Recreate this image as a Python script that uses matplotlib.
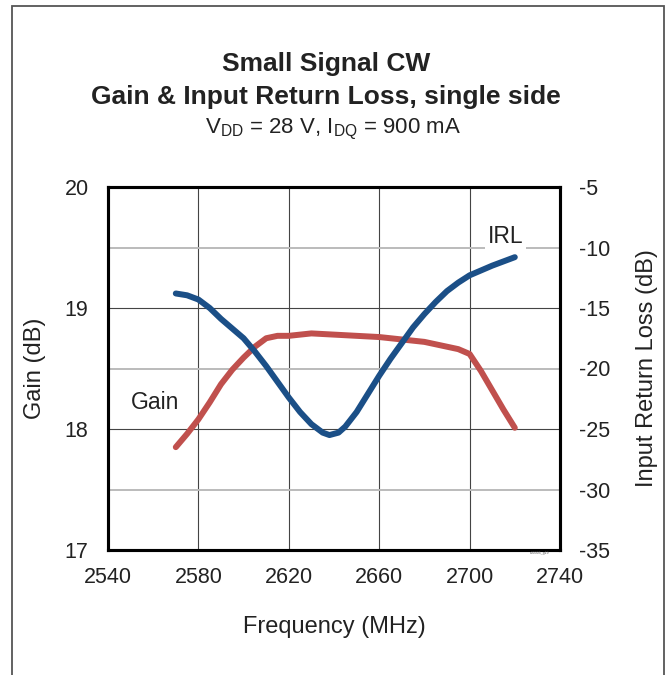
import matplotlib.pyplot as plt
from matplotlib.patches import Rectangle
from matplotlib.ticker import MultipleLocator

plt.rcParams['font.family'] = ['Liberation Sans', 'DejaVu Sans']
plt.rcParams['axes.unicode_minus'] = False

# data
gain_freq = [2570, 2575, 2580, 2585, 2590, 2595, 2600, 2605, 2610, 2615, 2620,
             2630, 2640, 2660, 2680, 2690, 2695, 2700, 2705, 2710, 2715, 2720]
gain = [17.85, 17.96, 18.08, 18.22, 18.37, 18.49, 18.59, 18.68, 18.75, 18.77, 18.77,
        18.79, 18.78, 18.76, 18.72, 18.68, 18.66, 18.62, 18.48, 18.32, 18.16, 18.01]

irl_freq = [2570, 2575, 2580, 2585, 2590, 2595, 2600, 2605, 2610, 2615, 2620,
            2625, 2630, 2635, 2638, 2642, 2645, 2650, 2655, 2660, 2665, 2670,
            2675, 2680, 2685, 2690, 2695, 2700, 2710, 2720]
irl = [-13.8, -13.95, -14.3, -15.0, -15.9, -16.7, -17.5, -18.6, -19.8, -21.1, -22.4,
       -23.6, -24.6, -25.3, -25.5, -25.3, -24.8, -23.6, -22.1, -20.6, -19.2, -17.9,
       -16.6, -15.5, -14.5, -13.6, -12.9, -12.3, -11.5, -10.8]

x_ticks = [2540, 2580, 2620, 2660, 2700, 2740]

fig = plt.figure(figsize=(6.66, 6.75), dpi=100)
ax = fig.add_axes([108/666, 1-550/675, 452/666, 363/675])
ax2 = ax.twinx()

# outer frame
fig.patches.append(Rectangle((12/666, -0.1), 652/666, 1.1 - 6/675,
                             transform=fig.transFigure, fill=False,
                             edgecolor='#555555', linewidth=1.3))

ax.set_xlim(2540, 2740)
ax.set_ylim(17, 20)
ax2.set_ylim(-35, -5)
ax.set_xticks(x_ticks)
ax.yaxis.set_major_locator(MultipleLocator(1))
ax.yaxis.set_minor_locator(MultipleLocator(0.5))
ax2.yaxis.set_major_locator(MultipleLocator(5))

ax.grid(True, which='major', color='#444444', linewidth=0.8)
ax.grid(True, which='minor', axis='y', color='#bbbbbb', linewidth=1.4)
ax.set_axisbelow(True)

ax.tick_params(which='both', length=0, labelsize=15.5, labelcolor='#222222')
ax.tick_params(axis='y', pad=14)
ax.tick_params(axis='x', pad=12)
ax2.tick_params(length=0, labelsize=15.5, pad=14, labelcolor='#222222')

for a in (ax, ax2):
    for s in a.spines.values():
        s.set_linewidth(2.2)
        s.set_color('black')

ax.plot(gain_freq, gain, color='#C0504D', linewidth=4.3, solid_capstyle='round',
        solid_joinstyle='round', zorder=3)
ax2.plot(irl_freq, irl, color='#1B4F87', linewidth=4.3, solid_capstyle='round',
         solid_joinstyle='round', zorder=3)

ax.text(2561, 18.22, 'Gain', fontsize=16.5, ha='center', va='center', color='#222222')
ax.text(2716, 19.59, 'IRL', fontsize=16.5, ha='center', va='center', color='#222222',
        bbox=dict(facecolor='white', edgecolor='none', pad=2), zorder=4)

ax.set_xlabel('Frequency (MHz)', fontsize=17, color='#222222', va='center')
ax.xaxis.set_label_coords(0.5, (550 - 627) / 363)
ax.set_ylabel('Gain (dB)', fontsize=17, color='#222222', va='center', ha='center')
ax.yaxis.set_label_coords((35 - 108) / 452, 0.5)
ax2.set_ylabel('Input Return Loss (dB)', fontsize=17, color='#222222',
               va='center', ha='center')
ax2.yaxis.set_label_coords((647 - 108) / 452, 0.5)

fig.text(0.49, 1-64/675, 'Small Signal CW', fontsize=19, fontweight='bold',
         ha='center', va='center', color='#222222')
fig.text(0.49, 1-97/675, 'Gain & Input Return Loss, single side', fontsize=19,
         fontweight='bold', ha='center', va='center', color='#222222')
fig.text(0.5, 1-129/675, r'V$_{\mathregular{DD}}$ = 28 V, I$_{\mathregular{DQ}}$ = 900 mA',
         fontsize=16, ha='center', va='center', color='#222222')
fig.text(540/666, 1-553/675, 'c30305_g19', fontsize=2.5, ha='center', va='center',
         color='#555555')

fig.savefig('out.png', dpi=100)
